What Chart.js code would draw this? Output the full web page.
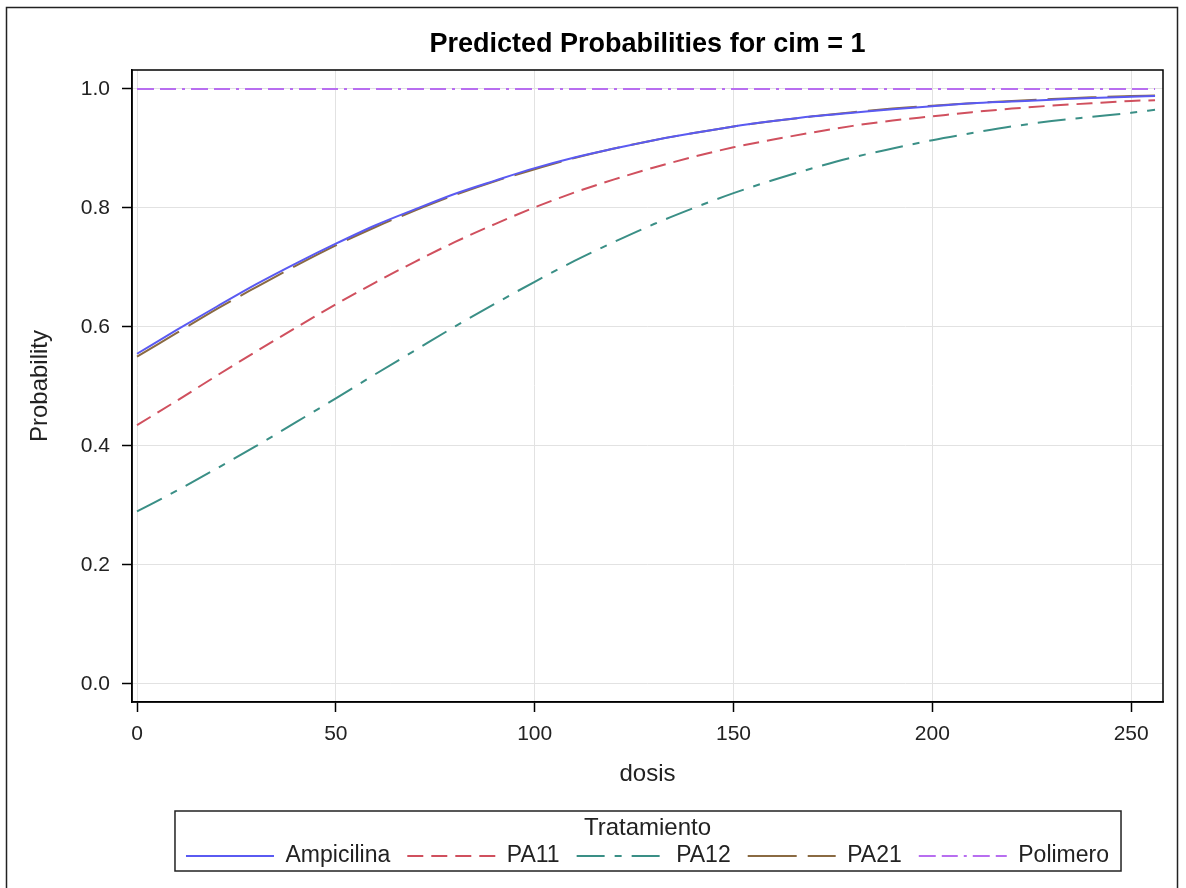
<!DOCTYPE html>
<html>
<head>
<meta charset="utf-8">
<style>
html, body { margin: 0; padding: 0; background: #fff; }
</style>
<script src="https://cdn.jsdelivr.net/npm/chart.js@4.4.1/dist/chart.umd.min.js"></script>
</head>
<body>
<canvas id="myChart" width="1186" height="888"></canvas>
<script>
// values
var dosis = [0,10,20,30,40,50,60,70,80,90,100,110,120,130,140,150,160,170,180,190,200,210,220,230,240,250,256];
var ampicilina = [0.555,0.595,0.634,0.672,0.707,0.740,0.771,0.798,0.824,0.846,0.867,0.885,0.900,0.914,0.926,0.937,0.946,0.954,0.960,0.966,0.971,0.976,0.979,0.982,0.985,0.987,0.988];
var pa11 = [0.435,0.476,0.518,0.559,0.599,0.638,0.675,0.710,0.743,0.773,0.801,0.826,0.848,0.868,0.886,0.902,0.915,0.927,0.938,0.947,0.954,0.961,0.967,0.972,0.976,0.980,0.981];
var pa12 = [0.290,0.325,0.362,0.400,0.440,0.480,0.521,0.561,0.601,0.639,0.676,0.711,0.743,0.773,0.800,0.825,0.847,0.867,0.885,0.900,0.914,0.926,0.937,0.946,0.953,0.960,0.965];
var pa21 = [0.550,0.590,0.630,0.667,0.703,0.737,0.768,0.796,0.822,0.845,0.865,0.884,0.900,0.914,0.926,0.937,0.946,0.954,0.961,0.967,0.972,0.976,0.980,0.983,0.986,0.988,0.989];
var polimero = [1,1,1,1,1,1,1,1,1,1,1,1,1,1,1,1,1,1,1,1,1,1,1,1,1,1,1];

var xTicks = [0,50,100,150,200,250];
var yTicks = [0,0.2,0.4,0.6,0.8,1.0];

var FONT = "'Liberation Sans', Arial, sans-serif";

function pts(arr) {
    return dosis.map(function (d, i) { return {x: d, y: arr[i]}; });
}

function line(label, arr, color, dash) {
    return {
        label: label,
        data: pts(arr),
        borderColor: color,
        backgroundColor: color,
        borderWidth: 2,
        borderDash: dash,
        pointRadius: 0,
        fill: false,
        cubicInterpolationMode: 'monotone'
    };
}

var framePlugin = {
    id: 'frame',
    beforeDraw: function (chart) {
        var c = chart.ctx;
        c.save();
        c.fillStyle = '#fff';
        c.fillRect(0, 0, chart.width, chart.height);
        c.restore();
    },
    afterDraw: function (chart) {
        var c = chart.ctx, a = chart.chartArea;
        c.save();
        // outer border
        c.strokeStyle = '#222';
        c.lineWidth = 1.5;
        c.strokeRect(6.5, 7.5, 1171, 900);
        // plot border
        c.strokeStyle = '#000';
        c.lineWidth = 1.5;
        c.strokeRect(a.left, a.top, a.right - a.left, a.bottom - a.top);
        // legend frame
        var lg = chart.legend;
        var hb = lg.legendHitBoxes;
        var l = hb[0].left - 11;
        var r = hb[hb.length - 1].left + hb[hb.length - 1].width + 12;
        c.strokeStyle = '#222';
        c.lineWidth = 1.5;
        c.strokeRect(l, lg.top - 4, r - l, 60);
        c.restore();
    }
};

var ctx = document.getElementById('myChart').getContext('2d');

var myChart = new Chart(ctx, {
    type: 'line',
    data: {
        datasets: [
            line('Ampicilina', ampicilina, '#5a5af2', []),
            line('PA11', pa11, '#d0505e', [16, 8]),
            line('PA12', pa12, '#3a8f86', [28, 10, 7, 10]),
            line('PA21', pa21, '#8a6a42', [49, 11]),
            line('Polimero', polimero, '#b86ef0', [17, 6, 16, 6, 3, 6])
        ]
    },
    options: {
        responsive: false,
        animation: false,
        layout: { padding: { left: 12, right: 23, top: 0, bottom: 10.5 } },
        scales: {
            x: {
                type: 'linear',
                min: -1.26,
                max: 258,
                afterBuildTicks: function (s) { s.ticks = xTicks.map(function (v) { return {value: v}; }); },
                grid: { color: '#e2e2e2', lineWidth: 1, tickColor: '#000', tickLength: 10, tickWidth: 1.5 },
                border: { color: '#000', width: 1.5 },
                ticks: { color: '#222', font: { family: FONT, size: 21 }, padding: 10, maxRotation: 0 },
                title: { display: true, text: 'dosis', color: '#222', font: { family: FONT, size: 24 }, padding: { top: 2.4, bottom: 26.6 } }
            },
            y: {
                min: -0.0303,
                max: 1.0319,
                afterBuildTicks: function (s) { s.ticks = yTicks.map(function (v) { return {value: v}; }); },
                afterFit: function (s) { s.width = 120; },
                grid: { color: '#e2e2e2', lineWidth: 1, tickColor: '#000', tickLength: 10, tickWidth: 1.5 },
                border: { color: '#000', width: 1.5 },
                ticks: { color: '#222', font: { family: FONT, size: 21 }, padding: 12, callback: function (v) { return v.toFixed(1); } },
                title: { display: true, text: 'Probability', color: '#222', font: { family: FONT, size: 24 }, padding: { top: 13.6, bottom: 4 } }
            }
        },
        plugins: {
            title: {
                display: true,
                text: 'Predicted Probabilities for cim = 1',
                color: '#000',
                fullSize: false,
                font: { family: FONT, size: 27, weight: 'bold' },
                padding: { top: 28.8, bottom: 8.8 }
            },
            legend: {
                position: 'bottom',
                fullSize: false,
                labels: {
                    color: '#222',
                    font: { family: FONT, size: 23 },
                    usePointStyle: true,
                    pointStyle: 'line',
                    pointStyleWidth: 88,
                    padding: 17,
                    generateLabels: function (chart) {
                        var items = Chart.defaults.plugins.legend.labels.generateLabels(chart);
                        items.forEach(function (it) {
                            var ds = chart.data.datasets[it.datasetIndex];
                            it.lineDash = ds.borderDash;
                            it.lineWidth = 2;
                            it.strokeStyle = ds.borderColor;
                        });
                        return items;
                    }
                },
                title: {
                    display: true,
                    text: 'Tratamiento',
                    color: '#222',
                    font: { family: FONT, size: 24 },
                    padding: { top: 1, bottom: -17.3 }
                }
            },
            tooltip: { enabled: false }
        }
    },
    plugins: [framePlugin]
});
</script>
</body>
</html>
